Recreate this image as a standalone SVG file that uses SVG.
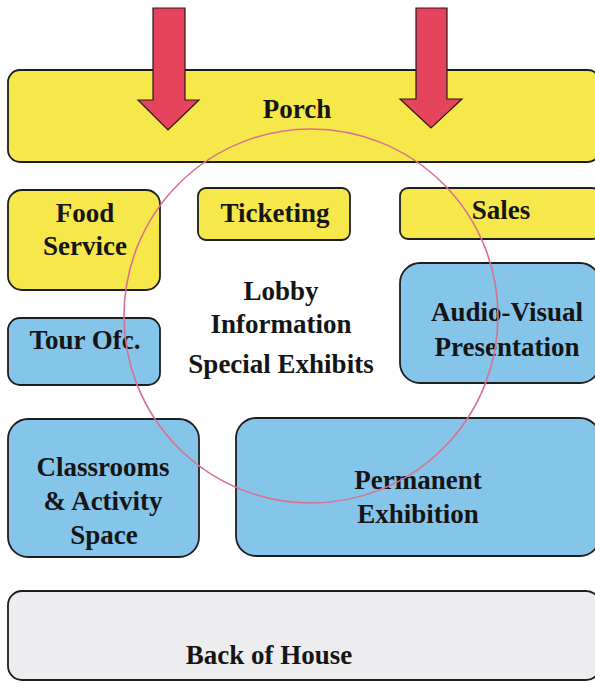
<svg xmlns="http://www.w3.org/2000/svg" width="595" height="689" viewBox="0 0 595 689">
<style>
.box{stroke:#1e1e1e;stroke-width:1.8}
.y{fill:#F6E84A}
.b{fill:#86C5EA}
.g{fill:#EDEDF0}
.t{font-family:"Liberation Serif","Times New Roman",serif;font-weight:bold;font-size:27px;fill:#151515;text-anchor:middle}
.arrow{fill:#E6435C;stroke:#2a1a1a;stroke-width:1.2}
.ring{fill:none;stroke:#D9708E;stroke-width:1.6}
</style>
<rect width="595" height="689" fill="#ffffff"/>
<g id="porch">
<rect class="box y" x="8" y="70" width="592" height="92" rx="12"/>
<text class="t" x="297" y="118">Porch</text>
</g>
<g id="food-service">
<rect class="box y" x="8" y="190" width="152" height="100" rx="14"/>
<text class="t" x="85" y="222">Food</text>
<text class="t" x="85" y="255">Service</text>
</g>
<g id="ticketing">
<rect class="box y" x="198" y="188" width="152" height="52" rx="8"/>
<text class="t" x="275" y="222">Ticketing</text>
</g>
<g id="sales">
<rect class="box y" x="400" y="188" width="200" height="51" rx="8"/>
<text class="t" x="501" y="219">Sales</text>
</g>
<g id="lobby">
<text class="t" x="281" y="300">Lobby</text>
<text class="t" x="281" y="333">Information</text>
<text class="t" x="281" y="373">Special Exhibits</text>
</g>
<g id="tour-ofc">
<rect class="box b" x="8" y="318" width="152" height="67" rx="12"/>
<text class="t" x="85" y="349">Tour Ofc.</text>
</g>
<g id="audio-visual">
<rect class="box b" x="400" y="263" width="200" height="120" rx="20"/>
<text class="t" x="507" y="321">Audio-Visual</text>
<text class="t" x="507" y="356">Presentation</text>
</g>
<g id="classrooms">
<rect class="box b" x="8" y="419" width="191" height="138" rx="20"/>
<text class="t" x="103" y="476">Classrooms</text>
<text class="t" x="103" y="510">&amp; Activity</text>
<text class="t" x="104" y="544">Space</text>
</g>
<g id="permanent-exhibition">
<rect class="box b" x="236" y="418" width="364" height="138" rx="20"/>
<text class="t" x="418" y="489">Permanent</text>
<text class="t" x="418" y="523">Exhibition</text>
</g>
<g id="back-of-house">
<rect class="box g" x="8" y="591" width="592" height="89" rx="14"/>
<text class="t" x="269" y="664">Back of House</text>
</g>
<g id="lobby-circle">
<circle class="ring" cx="311" cy="316" r="187"/>
</g>
<g id="connectors">
<path class="arrow" d="M153,8 H185 V100 H199 L168,130 L138,100 H153 Z"/>
<path class="arrow" d="M416,8 H447 V99 H462 L431,128 L400,99 H416 Z"/>
</g>
</svg>
